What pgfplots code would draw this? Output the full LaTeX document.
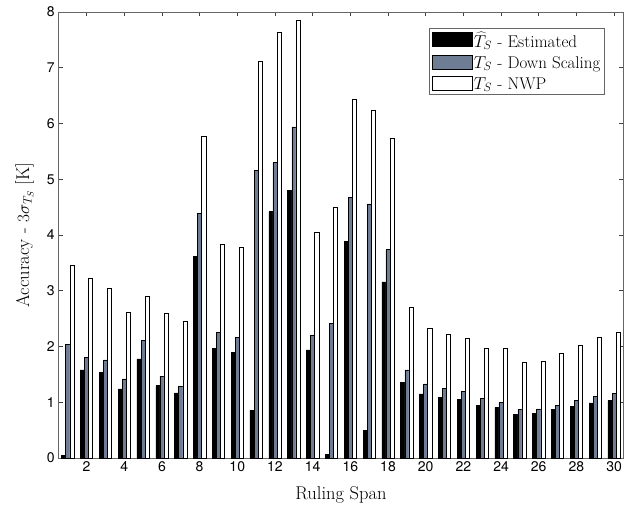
\documentclass[border=0pt]{standalone}
\usepackage{pgfplots}
\usepackage{pgfplotstable}
\pgfplotsset{compat=1.18}
\usepackage{fontspec}
\newfontfamily\helv{TeX Gyre Heros}
\definecolor{slate}{RGB}{110,124,148}
\pgfplotstableread{
x est down nwp
1 0.05 2.04 3.45
2 1.58 1.81 3.22
3 1.53 1.76 3.05
4 1.24 1.42 2.62
5 1.78 2.11 2.91
6 1.30 1.47 2.60
7 1.17 1.29 2.45
8 3.61 4.39 5.77
9 1.97 2.25 3.84
10 1.90 2.16 3.78
11 0.86 5.16 7.12
12 4.42 5.30 7.63
13 4.80 5.94 7.86
14 1.94 2.21 4.05
15 0.06 2.42 4.50
16 3.89 4.68 6.43
17 0.49 4.56 6.23
18 3.16 3.74 5.73
19 1.35 1.58 2.71
20 1.15 1.33 2.33
21 1.09 1.25 2.22
22 1.05 1.20 2.14
23 0.95 1.07 1.97
24 0.91 1.00 1.96
25 0.78 0.87 1.71
26 0.80 0.88 1.73
27 0.87 0.95 1.87
28 0.93 1.04 2.03
29 0.99 1.11 2.17
30 1.03 1.16 2.25
}\datatable
\pgfplotsset{myleg/.style={legend image code/.code={\draw[##1,/tikz/.cd,bar shift=0pt] (0pt,-6pt) rectangle (40pt,8pt);}}}
\begin{document}
\begin{tikzpicture}
\begin{axis}[
 scale only axis, width=565.2pt, height=446pt,
 xmin=0.5, xmax=30.5, ymin=0, ymax=8,
 ybar=0pt, bar width=4.1pt,
 xtick={2,4,...,30}, ytick={0,1,...,8},
 tick align=inside, major tick length=4.5pt,
 axis line style={black!60, line width=0.7pt},
 every tick/.style={black!75, line width=0.7pt},
 tick label style={font=\fontsize{14}{16}\helv},
 /pgf/number format/assume math mode=true,
 xlabel={Ruling Span}, ylabel={Accuracy - $3\sigma_{T_S}$ [K]},
 label style={font=\fontsize{18.5}{22}\selectfont},
 xlabel style={at={(axis description cs:0.5,-0.082)}, anchor=center},
 ylabel style={at={(axis description cs:-0.060,0.5)}, anchor=center},
 legend style={at={(rel axis cs:0.967,0.964)}, anchor=north east, draw=black!60, line width=0.7pt,
   font=\fontsize{17}{20}\selectfont, cells={anchor=west}, inner sep=3pt, row sep=5pt,
   nodes={inner sep=1pt}},
 legend cell align=left,
]
\addplot[fill=black, draw=black, line width=0.5pt, myleg] table[x=x,y=est] {\datatable};
\addplot[fill=slate, draw=black, line width=0.5pt, myleg] table[x=x,y=down] {\datatable};
\addplot[fill=white, draw=black, line width=0.5pt, myleg] table[x=x,y=nwp] {\datatable};
\legend{$\widehat{T}_S$ - Estimated, $T_S$ - Down Scaling, $T_S$ - NWP}
\coordinate (SW) at (rel axis cs:0,0);
\coordinate (NE) at (rel axis cs:1,1);
\end{axis}
\pgfresetboundingbox
\useasboundingbox ([xshift=-58.3pt,yshift=-53pt]SW) rectangle ([xshift=10.5pt,yshift=12pt]NE);
\end{tikzpicture}
\end{document}
